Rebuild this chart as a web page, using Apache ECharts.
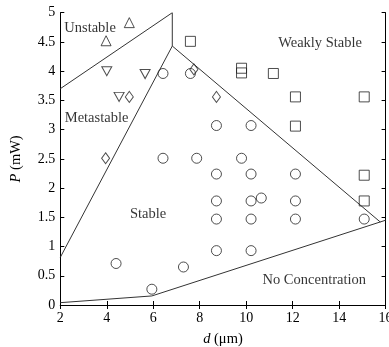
<!DOCTYPE html>
<html><head><meta charset="utf-8">
<script src="https://cdn.jsdelivr.net/npm/echarts@6/dist/echarts.min.js"></script>
<style>html,body{margin:0;padding:0;background:#fff}#c{width:389px;height:347px}</style>
</head><body><div id="c"></div>
<script>
var xTicks = [2,4,6,8,10,12,14,16];
var yTicks = [0,0.5,1,1.5,2,2.5,3,3.5,4,4.5,5];

var unstablePts = [[3.97,4.52],[4.97,4.83]];
var metastablePts = [[4.0,4.0],[5.65,3.95],[4.53,3.56]];
var diamondPts = [[4.97,3.56],[3.95,2.51],[7.75,4.03],[8.72,3.56]];
var stablePts = [[6.42,3.96],[7.6,3.96],[6.42,2.51],[7.87,2.51],[8.72,3.07],[10.21,3.07],[9.8,2.51],
  [8.72,2.24],[10.21,2.24],[12.12,2.24],[8.72,1.78],[10.21,1.78],[10.65,1.83],[12.12,1.78],
  [8.72,1.47],[10.21,1.47],[12.12,1.47],[15.08,1.47],[8.72,0.93],[10.21,0.93],[4.40,0.71],[5.94,0.27],[7.30,0.65]];
var weakPts = [[7.6,4.51],[9.8,3.97],[9.8,4.05],[11.17,3.96],[12.12,3.56],[15.08,3.56],[12.12,3.06],[15.08,2.22],[15.08,1.78]];

var lineUnstable = [[2,3.70],[6.82,5]];
var lineVertical = [[6.82,5],[6.82,4.43]];
var lineMeta = [[2,0.815],[6.82,4.43]];
var lineWeak = [[6.82,4.43],[15.77,1.42]];
var lineNoConc = [[2,0.04],[5.94,0.155],[16,1.45]];

var regionLabels = [
  {name:'Unstable', value:[3.28,4.74]},
  {name:'Weakly Stable', value:[13.18,4.48]},
  {name:'Metastable', value:[3.56,3.2]},
  {name:'Stable', value:[5.78,1.56]},
  {name:'No Concentration', value:[12.93,0.43]}
];

var FONT = '"Liberation Serif", "Times New Roman", serif';
var chart = echarts.init(document.getElementById('c'), null, {renderer:'canvas'});
function mk(data, symbol, size){
  return {type:'scatter', data:data, symbol:symbol, symbolSize:size, silent:true,
    itemStyle:{color:'rgba(0,0,0,0)', borderColor:'#222', borderWidth:1}, z:3};
}
function ln(data){
  return {type:'line', data:data, symbol:'none', silent:true, lineStyle:{color:'#333', width:1}, z:2};
}
var axisCommon = {
  axisLine:{lineStyle:{color:'#000', width:1}},
  axisTick:{inside:true, length:4, lineStyle:{color:'#000'}},
  splitLine:{show:false}
};
chart.setOption({
  animation:false,
  grid:{left:60.3, right:3.4, top:12.7, bottom:42, containLabel:false, outerBoundsMode:'none'},
  xAxis:[
    Object.assign({type:'value', min:xTicks[0], max:xTicks[xTicks.length-1], interval:2, position:'bottom',
      axisLabel:{fontFamily:FONT, fontSize:14, color:'#000', margin:6},
      name:'{i|d} (μm)', nameLocation:'middle', nameGap:27,
      nameTextStyle:{fontFamily:FONT, fontSize:14.5, color:'#000', rich:{i:{fontStyle:'italic', fontFamily:FONT, fontSize:14.5}}}
    }, axisCommon),
    Object.assign({type:'value', min:2, max:16, interval:2, position:'top', axisLabel:{show:false}}, axisCommon)
  ],
  yAxis:[
    Object.assign({type:'value', min:yTicks[0], max:yTicks[yTicks.length-1], interval:0.5, position:'left',
      axisLabel:{fontFamily:FONT, fontSize:14, color:'#000', margin:5},
      name:'{i|P} (mW)', nameLocation:'middle', nameGap:37, nameRotate:90,
      nameTextStyle:{fontFamily:FONT, fontSize:14.5, color:'#000', rich:{i:{fontStyle:'italic', fontFamily:FONT, fontSize:14.5}}}
    }, axisCommon),
    Object.assign({type:'value', min:0, max:5, interval:0.5, position:'right', axisLabel:{show:false}}, axisCommon)
  ],
  series:[
    ln(lineUnstable), ln(lineVertical), ln(lineMeta), ln(lineWeak), ln(lineNoConc),
    mk(unstablePts,'triangle',10),
    mk(metastablePts,'path://M0,0 L10,0 L5,9 Z',[10,9]),
    mk(diamondPts,'diamond',[8,11]),
    mk(stablePts,'circle',10),
    mk(weakPts,'rect',10),
    {type:'scatter', data:regionLabels, symbolSize:0, silent:true,
      label:{show:true, position:'inside', formatter:function(p){return p.name;}, fontFamily:FONT, fontSize:14.5, color:'#000'}}
  ]
});
</script></body></html>
